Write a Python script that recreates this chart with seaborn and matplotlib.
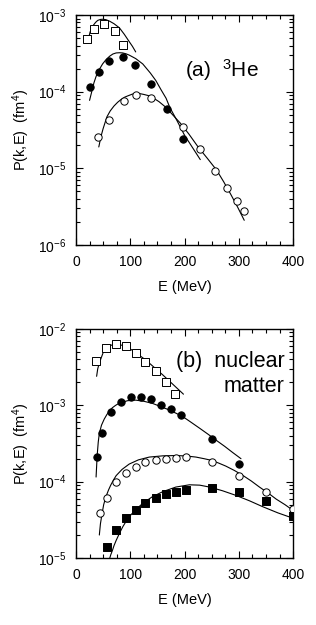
import numpy as np
import pandas as pd
import matplotlib
matplotlib.use("Agg")
import matplotlib.pyplot as plt
from matplotlib.ticker import MultipleLocator, LogLocator, NullFormatter
import seaborn as sns

# ---- panel (a): 3He, symbols ----
a_sq_E = [21, 33, 51, 71, 87]
a_sq_P = [4.9e-4, 6.6e-4, 7.6e-4, 6.1e-4, 4.1e-4]
a_fc_E = [26, 42, 61, 87, 109, 138, 168, 198]
a_fc_P = [1.15e-4, 1.83e-4, 2.5e-4, 2.8e-4, 2.2e-4, 1.26e-4, 5.9e-5, 2.4e-5]
a_oc_E = [41, 61, 88, 110, 138, 197, 229, 256, 278, 297, 310]
a_oc_P = [2.6e-5, 4.3e-5, 7.6e-5, 9.0e-5, 8.3e-5, 3.5e-5, 1.8e-5, 9.3e-6, 5.5e-6, 3.8e-6, 2.8e-6]

# ---- panel (a): curves ----
a_sq_line_E = [22, 26, 31, 36, 40, 45, 49, 55, 62, 70, 80, 89, 98, 104, 110]
a_sq_line_P = [4.6e-4, 6.0e-4, 7.2e-4, 8.0e-4, 8.5e-4, 8.75e-4, 8.8e-4, 8.7e-4,
               8.3e-4, 7.7e-4, 6.8e-4, 5.6e-4, 4.5e-4, 3.9e-4, 3.3e-4]
a_fc_line_E = [25, 29, 33, 37, 43, 49, 55, 62, 68, 74, 80, 86, 92, 98, 110, 123,
               137, 147, 157, 166, 173, 186, 200, 215, 229]
a_fc_line_P = [7.7e-5, 1.0e-4, 1.3e-4, 1.58e-4, 1.95e-4, 2.3e-4, 2.6e-4, 2.9e-4,
               3.1e-4, 3.2e-4, 3.22e-4, 3.2e-4, 3.12e-4, 3.0e-4, 2.7e-4, 2.3e-4,
               1.75e-4, 1.4e-4, 1.05e-4, 8.2e-5, 6.2e-5, 4.2e-5, 2.7e-5, 1.85e-5, 1.3e-5]
a_oc_line_E = [42, 46, 50, 57, 63, 70, 77, 83, 90, 97, 104, 110, 117, 125, 133, 141,
               153, 165, 178, 192, 208, 225, 242, 259, 272, 285, 298, 310]
a_oc_line_P = [1.9e-5, 2.6e-5, 3.3e-5, 4.7e-5, 5.6e-5, 6.5e-5, 7.3e-5, 7.9e-5,
               8.5e-5, 8.9e-5, 9.3e-5, 9.5e-5, 9.45e-5, 9.2e-5, 8.9e-5, 8.4e-5,
               7.4e-5, 6.3e-5, 5.0e-5, 3.9e-5, 2.8e-5, 1.9e-5, 1.35e-5, 9.5e-6,
               6.7e-6, 4.6e-6, 3.1e-6, 2.1e-6]

# ---- panel (b): nuclear matter, symbols ----
b_sq_E = [37, 56, 74, 92, 110, 128, 147, 165, 183]
b_sq_P = [3.8e-3, 5.7e-3, 6.4e-3, 5.9e-3, 4.8e-3, 3.7e-3, 2.8e-3, 2.0e-3, 1.4e-3]
b_fc_E = [38, 47, 64, 83, 101, 119, 138, 157, 175, 193, 251, 301]
b_fc_P = [2.1e-4, 4.3e-4, 8.3e-4, 1.1e-3, 1.3e-3, 1.3e-3, 1.2e-3, 1.0e-3,
          8.9e-4, 7.4e-4, 3.6e-4, 1.7e-4]
b_oc_E = [44, 57, 74, 92, 110, 128, 147, 165, 184, 202, 251, 301, 351, 400]
b_oc_P = [3.9e-5, 6.2e-5, 1.0e-4, 1.3e-4, 1.55e-4, 1.8e-4, 1.95e-4, 2.0e-4,
          2.05e-4, 2.1e-4, 1.8e-4, 1.2e-4, 7.4e-5, 4.4e-5]
b_fs_E = [57, 74, 92, 110, 128, 147, 165, 184, 202, 251, 301, 350, 400]
b_fs_P = [1.4e-5, 2.3e-5, 3.3e-5, 4.2e-5, 5.2e-5, 6.1e-5, 6.8e-5, 7.3e-5,
          7.8e-5, 8.2e-5, 7.4e-5, 5.5e-5, 3.5e-5]

# ---- panel (b): curves ----
b_sq_line_E = [38, 40, 43, 46, 50, 55, 62, 68, 74, 82, 90, 98, 110, 129, 145, 160, 178, 198]
b_sq_line_P = [2.4e-3, 3.0e-3, 3.6e-3, 4.1e-3, 4.9e-3, 5.6e-3, 6.0e-3, 6.25e-3,
               6.3e-3, 6.2e-3, 5.95e-3, 5.6e-3, 4.9e-3, 3.9e-3, 3.1e-3, 2.5e-3,
               1.9e-3, 1.4e-3]
b_fc_line_E = [37, 39, 41, 43, 47, 52, 57, 61, 67, 73, 80, 86, 95, 110, 125, 141,
               155, 170, 184, 197, 212, 228, 243, 258, 274, 289, 304]
b_fc_line_P = [1.15e-4, 2.2e-4, 3.3e-4, 4.3e-4, 5.5e-4, 6.6e-4, 7.6e-4, 8.3e-4,
               9.3e-4, 1.0e-3, 1.07e-3, 1.1e-3, 1.15e-3, 1.17e-3, 1.13e-3, 1.06e-3,
               9.7e-4, 8.8e-4, 7.9e-4, 7.1e-4, 6.0e-4, 5.0e-4, 4.2e-4, 3.5e-4,
               2.9e-4, 2.4e-4, 2.0e-4]
b_oc_line_E = [43, 45, 48, 51, 55, 60, 64, 69, 74, 85, 98, 115, 135, 160, 184, 203,
               221, 236, 250, 263, 276, 292, 308, 323, 338, 354, 369, 385, 400]
b_oc_line_P = [2.0e-5, 2.8e-5, 3.8e-5, 5.0e-5, 6.3e-5, 7.8e-5, 9.0e-5, 1.05e-4,
               1.2e-4, 1.45e-4, 1.7e-4, 1.93e-4, 2.1e-4, 2.18e-4, 2.2e-4, 2.17e-4,
               2.1e-4, 2.0e-4, 1.9e-4, 1.75e-4, 1.6e-4, 1.4e-4, 1.2e-4, 1.02e-4,
               8.5e-5, 7.1e-5, 5.9e-5, 5.0e-5, 4.2e-5]
b_fs_line_E = [61, 64, 67, 70, 74, 80, 86, 92, 100, 110, 123, 140, 160, 184, 209,
               228, 246, 270, 295, 320, 344, 372, 401]
b_fs_line_P = [9.3e-6, 1.1e-5, 1.25e-5, 1.45e-5, 1.7e-5, 2.1e-5, 2.55e-5, 3.0e-5,
               3.6e-5, 4.3e-5, 5.2e-5, 6.3e-5, 7.4e-5, 8.5e-5, 9.1e-5, 9.0e-5,
               8.5e-5, 7.6e-5, 6.6e-5, 5.6e-5, 4.7e-5, 3.9e-5, 3.3e-5]

sns.set_style("white")
plt.rcParams["font.family"] = ["Liberation Sans", "DejaVu Sans"]
plt.rcParams["mathtext.default"] = "regular"
plt.rcParams["text.color"] = "black"
plt.rcParams["axes.labelcolor"] = "black"
plt.rcParams["xtick.color"] = "black"
plt.rcParams["ytick.color"] = "black"

fig = plt.figure(figsize=(3.16, 6.25), dpi=100)
ax_a = fig.add_axes([0.2405, 0.608, 0.687, 0.368])
ax_b = fig.add_axes([0.2405, 0.1072, 0.687, 0.3664])

ms = 28  # marker area


def draw(ax, E, P, marker, filled):
    df = pd.DataFrame({"E": E, "P": P})
    sns.scatterplot(data=df, x="E", y="P", ax=ax, marker=marker, s=ms,
                    facecolor="black" if filled else "white",
                    edgecolor="black", linewidth=0.7, zorder=3)


def curve(ax, E, P):
    df = pd.DataFrame({"E": E, "P": P})
    sns.lineplot(data=df, x="E", y="P", ax=ax, color="black", lw=0.8,
                 sort=False, estimator=None, zorder=2)


for E, P in [(a_sq_line_E, a_sq_line_P), (a_fc_line_E, a_fc_line_P), (a_oc_line_E, a_oc_line_P)]:
    curve(ax_a, E, P)
draw(ax_a, a_sq_E, a_sq_P, "s", False)
draw(ax_a, a_fc_E, a_fc_P, "o", True)
draw(ax_a, a_oc_E, a_oc_P, "o", False)

for E, P in [(b_sq_line_E, b_sq_line_P), (b_fc_line_E, b_fc_line_P),
             (b_oc_line_E, b_oc_line_P), (b_fs_line_E, b_fs_line_P)]:
    curve(ax_b, E, P)
draw(ax_b, b_sq_E, b_sq_P, "s", False)
draw(ax_b, b_fc_E, b_fc_P, "o", True)
draw(ax_b, b_oc_E, b_oc_P, "o", False)
draw(ax_b, b_fs_E, b_fs_P, "s", True)

for ax, ylim in [(ax_a, (1e-6, 1e-3)), (ax_b, (1e-5, 1e-2))]:
    ax.set_yscale("log")
    ax.set_xlim(0, 400)
    ax.set_ylim(*ylim)
    ax.xaxis.set_major_locator(MultipleLocator(100))
    ax.xaxis.set_minor_locator(MultipleLocator(25))
    ax.yaxis.set_minor_locator(LogLocator(base=10, subs=np.arange(2, 10)))
    ax.yaxis.set_minor_formatter(NullFormatter())
    ax.tick_params(which="both", direction="in", bottom=True, left=True,
                   top=True, right=True, labelsize=10, width=0.8)
    ax.tick_params(which="major", length=5, pad=7)
    ax.tick_params(which="minor", length=3)
    for s in ax.spines.values():
        s.set_linewidth(1.0)
        s.set_color("black")
    ax.set_xlabel("E (MeV)", fontsize=10.5, labelpad=8)
    ax.set_ylabel("P(k,E)  (fm$^4$)", fontsize=10.5, labelpad=4)

ax_a.text(0.5, 0.76, "(a)  $^3$He", transform=ax_a.transAxes, fontsize=15,
          ha="left", va="center")
ax_b.text(0.96, 0.86, "(b)  nuclear", transform=ax_b.transAxes, fontsize=15.5,
          ha="right", va="center")
ax_b.text(0.96, 0.75, "matter", transform=ax_b.transAxes, fontsize=15.5,
          ha="right", va="center")

fig.savefig("out.png", dpi=100)
